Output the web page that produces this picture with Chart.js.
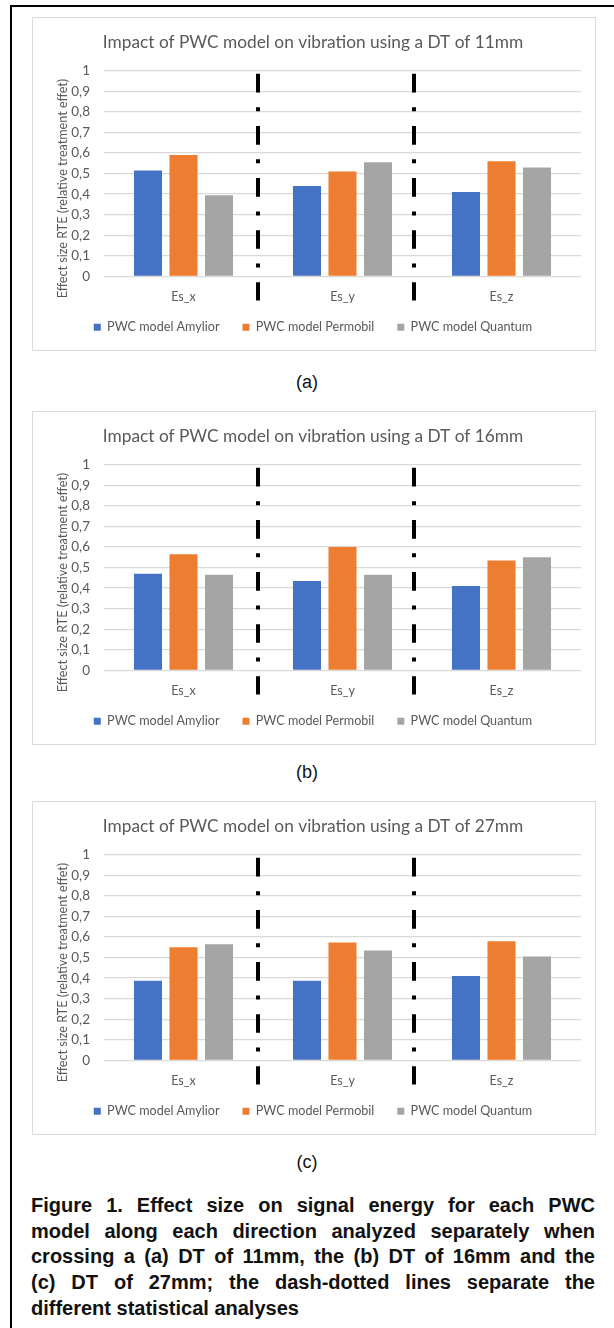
<!DOCTYPE html>
<html>
<head>
<meta charset="utf-8">
<script src="https://cdn.jsdelivr.net/npm/chart.js@4.4.1/dist/chart.umd.min.js"></script>
<style>
  body { margin: 0; background: #fff; width: 614px; height: 1328px; position: relative; overflow: hidden; }
  .frame { position: absolute; left: 10px; top: 5px; width: 610px; height: 1330px; border-top: 2px solid #000; border-left: 2px solid #000; }
  .panel { position: absolute; left: 32px; width: 562px; height: 332px; border: 1px solid #d9d9d9; background: #fff; }
  .panel canvas { display: block; }
  .sub { position: absolute; left: 0; width: 614px; text-align: center; font-family: "Liberation Sans", Arial, sans-serif; font-size: 18px; color: #111; }
  .caption { position: absolute; left: 31px; width: 564px; top: 1193px; font-family: "Liberation Sans", Arial, sans-serif; font-weight: bold; font-size: 20px; line-height: 25.7px; color: #111; }
  .caption div { text-align: justify; text-align-last: justify; white-space: nowrap; }
  .caption div.last { text-align-last: left; }
</style>
</head>
<body>
<div class="frame"></div>

<div class="panel" style="top:17px"><canvas id="chartA" width="562" height="332"></canvas></div>
<div class="sub" style="top:372px">(a)</div>

<div class="panel" style="top:411px"><canvas id="chartB" width="562" height="332"></canvas></div>
<div class="sub" style="top:762px">(b)</div>

<div class="panel" style="top:801px"><canvas id="chartC" width="562" height="332"></canvas></div>
<div class="sub" style="top:1152px">(c)</div>

<div class="caption">
  <div>Figure 1. Effect size on signal energy for each PWC</div>
  <div>model along each direction analyzed separately when</div>
  <div>crossing a (a) DT of 11mm, the (b) DT of 16mm and the</div>
  <div>(c) DT of 27mm; the dash-dotted lines separate the</div>
  <div class="last">different statistical analyses</div>
</div>

<script>
// Categories and series
const categories = ['Es_x', 'Es_y', 'Es_z'];
const seriesNames = ['PWC model Amylior', 'PWC model Permobil', 'PWC model Quantum'];
const seriesColors = ['#4472C4', '#ED7D31', '#A5A5A5'];

// DT 11mm
const amylior11 = [0.515, 0.44, 0.41];
const permobil11 = [0.59, 0.51, 0.56];
const quantum11 = [0.395, 0.555, 0.53];

// DT 16mm
const amylior16 = [0.47, 0.435, 0.41];
const permobil16 = [0.565, 0.60, 0.535];
const quantum16 = [0.465, 0.465, 0.55];

// DT 27mm
const amylior27 = [0.387, 0.387, 0.41];
const permobil27 = [0.55, 0.573, 0.58];
const quantum27 = [0.565, 0.535, 0.505];

// y axis tick labels (comma decimals, as in the original)
const yTickLabels = ['0', '0,1', '0,2', '0,3', '0,4', '0,5', '0,6', '0,7', '0,8', '0,9', '1'];
const yAxisTitle = 'Effect size RTE (relative treatment effet)';

// dash-dotted separators between the analyses, in category units
const separatorPositions = [0.47, 1.45];

const textColor = '#595959';
const fontFamily = 'Lato, "Open Sans", sans-serif';

// pull the legend a bit closer to the axis labels (Excel-like spacing)
const legendShift = {
  id: 'legendShift',
  afterLayout(chart) {
    const lg = chart.legend;
    if (lg) { lg.top -= 6.5; lg.bottom -= 6.5; }
  }
};

// draws the dash-dotted separators and the y axis title
const overlayPlugin = {
  id: 'overlay',
  afterDatasetsDraw(chart) {
    const { ctx, chartArea, scales } = chart;
    const xs = scales.x, ys = scales.y;
    const top = ys.getPixelForValue(0.985);
    const bottom = chartArea.bottom + 24;
    ctx.save();
    ctx.strokeStyle = '#000';
    ctx.lineWidth = 4;
    ctx.lineCap = 'butt';
    ctx.setLineDash([18.7, 14.7, 4, 14.7]);
    separatorPositions.forEach(p => {
      const x = Math.round(xs.getPixelForValue(p));
      ctx.beginPath();
      ctx.moveTo(x, top);
      ctx.lineTo(x, bottom);
      ctx.stroke();
    });
    ctx.restore();

    // y axis title, centred like in Excel (on plot + labels)
    ctx.save();
    ctx.fillStyle = textColor;
    ctx.font = '12.6px ' + fontFamily;
    ctx.textAlign = 'center';
    ctx.textBaseline = 'middle';
    ctx.translate(30, (chartArea.top + chartArea.bottom) / 2 + 15);
    ctx.rotate(-Math.PI / 2);
    ctx.fillText(yAxisTitle, 0, 0);
    ctx.restore();
  }
};

function makeChart(canvasId, title, amylior, permobil, quantum) {
  const ctx = document.getElementById(canvasId).getContext('2d');
  const values = [amylior, permobil, quantum];
  return new Chart(ctx, {
    type: 'bar',
    data: {
      labels: categories,
      datasets: values.map((data, i) => ({
        label: seriesNames[i],
        data: data,
        backgroundColor: seriesColors[i],
        categoryPercentage: 0.67,
        barPercentage: 0.79
      }))
    },
    options: {
      responsive: false,
      animation: false,
      layout: { padding: { left: 12, right: 14, top: 0, bottom: 0 } },
      scales: {
        x: {
          grid: { display: false, drawTicks: false },
          border: { display: false },
          ticks: { color: textColor, font: { family: fontFamily, size: 12.5 }, padding: 13 },
          afterFit: s => { s.height = 28; }
        },
        y: {
          min: 0,
          max: 1,
          ticks: {
            stepSize: 0.1,
            color: textColor,
            font: { family: fontFamily, size: 13.5 },
            padding: 14,
            callback: (v, i) => yTickLabels[i]
          },
          grid: { color: '#d9d9d9', lineWidth: 1.3, drawTicks: false },
          border: { display: false },
          afterFit: s => { s.width = 59; }
        }
      },
      plugins: {
        title: {
          display: true,
          text: title,
          color: textColor,
          font: { family: fontFamily, size: 17.3, weight: 'normal' },
          padding: { top: 14, bottom: 18 }
        },
        legend: {
          position: 'bottom',
          labels: {
            color: textColor,
            font: { family: fontFamily, size: 12.6 },
            boxWidth: 7,
            boxHeight: 7,
            padding: 23
          }
        },
        tooltip: { enabled: false }
      }
    },
    plugins: [overlayPlugin, legendShift]
  });
}

makeChart('chartA', 'Impact of PWC model on vibration using a DT of 11mm', amylior11, permobil11, quantum11);
makeChart('chartB', 'Impact of PWC model on vibration using a DT of 16mm', amylior16, permobil16, quantum16);
makeChart('chartC', 'Impact of PWC model on vibration using a DT of 27mm', amylior27, permobil27, quantum27);
</script>
</body>
</html>
